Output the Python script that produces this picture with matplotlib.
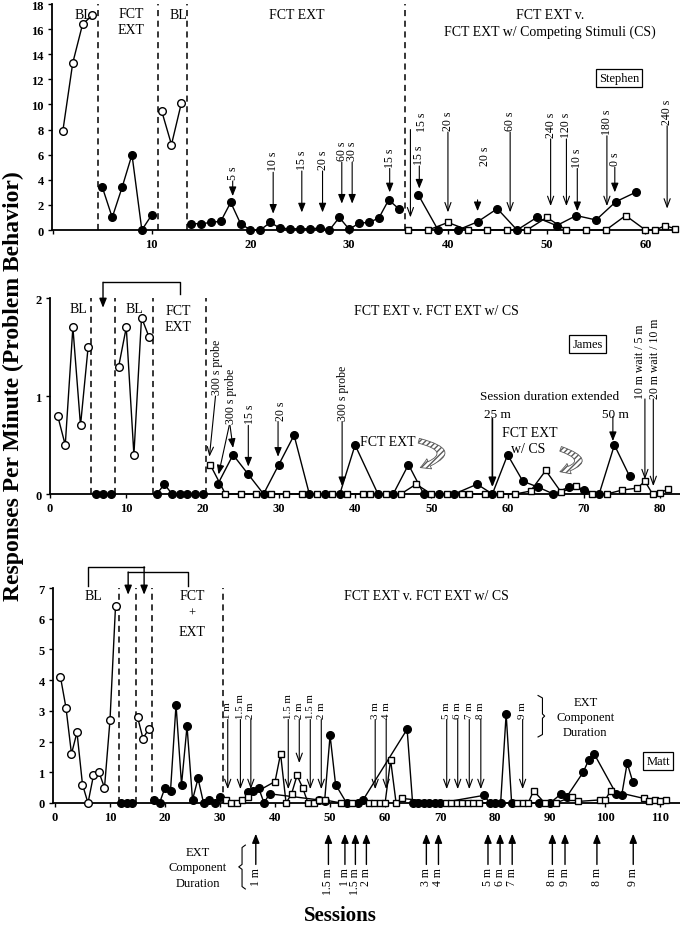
import numpy as np
import matplotlib
matplotlib.use("Agg")
import matplotlib.pyplot as plt
from matplotlib.patches import FancyArrowPatch

plt.rcParams['font.family'] = ['Liberation Serif', 'DejaVu Serif']

# ---------------- Stephen (top panel) ----------------
st_bl1_x = [1, 2, 3, 4]
st_bl1_y = [7.9, 13.3, 16.4, 17.1]
st_fct1_x = [5, 6, 7, 8, 9, 10]
st_fct1_y = [3.4, 1.0, 3.4, 6.0, 0, 1.2]
st_bl2_x = [11, 12, 13]
st_bl2_y = [9.5, 6.8, 10.1]
st_fct2_x = list(range(14, 36))
st_fct2_y = [0.5, 0.5, 0.6, 0.7, 2.2, 0.5, 0, 0, 0.6, 0.15, 0.1, 0.1, 0.1, 0.15,
             0, 1.0, 0.05, 0.55, 0.6, 0.95, 2.4, 1.7]
st_ext_x = [37, 39, 41, 43, 45, 47, 49, 51, 53, 55, 57, 59]
st_ext_y = [2.8, 0, 0, 0.65, 1.7, 0, 1.0, 0.35, 1.15, 0.8, 2.25, 3.0]
st_cs_x = [36, 38, 40, 42, 44, 46, 48, 50, 52, 54, 56, 58, 60, 61, 62, 63]
st_cs_y = [0, 0, 0.6, 0, 0, 0, 0, 1.0, 0, 0, 0, 1.15, 0, 0, 0.35, 0.1]
st_phase = [4.6, 10.6, 13.6, 35.7]
# (session, label, label base, arrow tip, open head)
st_arrows = [(18.2, "5 s", 3.9, 2.7, False), (22.3, "10 s", 4.6, 1.3, False),
             (25.2, "15 s", 4.7, 1.4, False), (27.3, "20 s", 4.7, 1.4, False),
             (29.25, "60 s", 5.4, 2.1, False), (30.3, "30 s", 5.4, 2.1, False),
             (34.1, "15 s", 4.9, 3.0, False), (37.1, "15 s", 5.1, 3.3, False),
             (40.0, "20 s", 7.8, 1.4, True), (46.3, "60 s", 7.8, 1.4, True),
             (50.4, "240 s", 7.25, 1.9, True), (52.0, "120 s", 7.25, 1.9, True),
             (53.1, "10 s", 4.9, 1.5, False), (56.1, "180 s", 7.5, 1.9, True),
             (56.9, "0 s", 5.0, 3.0, False), (62.2, "240 s", 8.3, 1.7, True)]

# ---------------- James (middle panel) ----------------
ja_bl1_x = [1, 2, 3, 4, 5]
ja_bl1_y = [0.8, 0.5, 1.7, 0.7, 1.5]
ja_fct1_x = [6, 7, 8]
ja_fct1_y = [0, 0, 0]
ja_bl2_x = [9, 10, 11, 12, 13]
ja_bl2_y = [1.3, 1.7, 0.4, 1.8, 1.6]
ja_fct2_x = [14, 15, 16, 17, 18, 19, 20]
ja_fct2_y = [0, 0.1, 0, 0, 0, 0, 0]
ja_ext_x = [22, 24, 26, 28, 30, 32, 34, 36, 38, 40, 43, 45, 47, 49, 51, 53, 56, 58,
            60, 62, 64, 66, 68, 70, 72, 74, 76]
ja_ext_y = [0.1, 0.4, 0.2, 0, 0.3, 0.6, 0, 0, 0, 0.5, 0, 0, 0.3, 0, 0, 0, 0.1, 0,
            0.4, 0.13, 0.07, 0, 0.07, 0.04, 0, 0.5, 0.18]
ja_cs_x = [21, 23, 25, 27, 29, 31, 33, 35, 37, 39, 41, 42, 44, 46, 48, 50, 52, 54,
           55, 57, 59, 61, 63, 65, 67, 69, 71, 73, 75, 77, 78, 79, 80, 81]
ja_cs_y = [0.3, 0, 0, 0, 0, 0, 0, 0, 0, 0, 0, 0, 0, 0, 0.1, 0, 0, 0,
           0, 0, 0, 0, 0.03, 0.24, 0.02, 0.08, 0, 0, 0.04, 0.06, 0.13, 0, 0.01, 0.05]
ja_phase = [5.4, 8.5, 13.5, 20.4]

# ---------------- Matt (bottom panel) ----------------
ma_bl1_x = list(range(1, 12))
ma_bl1_y = [4.1, 3.1, 1.6, 2.3, 0.6, 0, 0.9, 1.0, 0.5, 2.7, 6.4]
ma_fct1_x = [12, 13, 14]
ma_fct1_y = [0, 0, 0]
ma_bl2_x = [15, 16, 17]
ma_bl2_y = [2.8, 2.1, 2.4]
ma_fct2_x = list(range(18, 31))
ma_fct2_y = [0.1, 0, 0.5, 0.4, 3.2, 0.6, 2.5, 0.1, 0.8, 0, 0.1, 0, 0.2]
ma_ext_x = [35, 36, 37, 38, 39, 48, 49, 50, 51, 53, 55, 56, 64, 65, 66, 67, 68, 69,
            70, 78, 79, 80, 81, 82, 83, 88, 90, 92, 93, 96, 97, 98, 102, 103, 104, 105]
ma_ext_y = [0.35, 0.4, 0.5, 0, 0.3, 0.1, 0.05, 2.2, 0.6, 0, 0, 0.1, 2.4, 0, 0, 0, 0, 0,
            0, 0.25, 0, 0, 0, 2.9, 0, 0, 0, 0.3, 0.2, 1.0, 1.4, 1.6, 0.3, 0.25, 1.3, 0.7]
ma_cs_x = [31, 32, 33, 34, 35, 40, 41, 42, 43, 44, 45, 46, 47, 48, 49, 52, 54, 57, 58,
           59, 60, 61, 62, 63, 71, 72, 73, 74, 75, 76, 77, 84, 85, 86, 87, 89, 91, 94,
           95, 99, 100, 101, 107, 108, 109, 110, 111]
ma_cs_y = [0.1, 0, 0, 0.1, 0.2, 0.7, 1.6, 0, 0.3, 0.9, 0.5, 0, 0, 0.1, 0.1, 0, 0, 0, 0,
           0, 0, 1.4, 0, 0.15, 0, 0, 0, 0, 0, 0, 0, 0, 0, 0, 0.4, 0, 0, 0.2,
           0.05, 0.1, 0.1, 0.4, 0.15, 0.05, 0.1, 0.05, 0.1]
ma_phase = [11.7, 14.7, 17.6, 30.6]
ma_top_x = [31.4, 33.7, 35.6, 42.4, 44.4, 46.4, 48.4, 58.2, 60.2, 71.2, 73.2, 75.3, 77.4, 85.0]
ma_top_lab = ["1 m", "1.5 m", "2 m", "1.5 m", "2 m", "1.5 m", "2 m", "3 m", "4 m",
              "5 m", "6 m", "7 m", "8 m", "9 m"]
ma_bot_x = [36.5, 49.7, 52.7, 54.6, 56.6, 67.5, 69.7, 78.7, 80.9, 83.1, 90.4, 92.7, 98.5, 105.1]
ma_bot_lab = ["1 m", "1.5 m", "1 m", "1.5 m", "2 m", "3 m", "4 m", "5 m", "6 m", "7 m",
              "8 m", "9 m", "8 m", "9 m"]

W, H = 680, 928
fig = plt.figure(figsize=(W / 100, H / 100), dpi=100)


def box(l, t, r, b):
    return [l / W, 1 - b / H, (r - l) / W, (b - t) / H]


def style(ax):
    for s in ['top', 'right']:
        ax.spines[s].set_visible(False)
    for s in ['left', 'bottom']:
        ax.spines[s].set_linewidth(1.3)
    ax.tick_params(direction='out', length=3, width=1, labelsize=9, pad=3)
    for lab in ax.get_xticklabels() + ax.get_yticklabels():
        lab.set_fontweight('bold')


def series(ax, x, y, kind):
    if kind == 'open':
        kw = dict(marker='o', mfc='white', mec='k', ms=5.5, mew=1)
    elif kind == 'fill':
        kw = dict(marker='o', mfc='k', mec='k', ms=5.5)
    else:
        kw = dict(marker='s', mfc='white', mec='k', ms=5, mew=1)
    ax.plot(x, y, color='k', lw=1, clip_on=False, zorder=3, **kw)


def phases(ax, xs):
    for x in xs:
        ax.axvline(x, color='k', ls=(0, (4, 3)), lw=1.1, zorder=1)


def arrow(ax, x0, y0, x1, y1, open_head=False, lw=0.8):
    st = '->,head_length=0.6,head_width=0.22' if open_head else '-|>,head_length=0.55,head_width=0.22'
    ax.annotate('', xy=(x1, y1), xytext=(x0, y0), annotation_clip=False,
                arrowprops=dict(arrowstyle=st, color='k', lw=lw, shrinkA=0, shrinkB=0))


def vlabel(ax, x, y, s, size=8.5, va='bottom'):
    ax.text(x, y, s, rotation=90, ha='center', va=va, fontsize=size, clip_on=False)


# ---------------- top panel ----------------
ax1 = fig.add_axes(box(52, 5, 678, 231))
ax1.set_xlim(-0.1, 63.3)
ax1.set_ylim(0, 18)
ax1.set_yticks(range(0, 19, 2))
ax1.set_xticks(range(0, 61, 10))
ax1.set_xticklabels([''] + [str(v) for v in range(10, 61, 10)])
style(ax1)
phases(ax1, st_phase)
series(ax1, st_bl1_x, st_bl1_y, 'open')
series(ax1, st_fct1_x, st_fct1_y, 'fill')
series(ax1, st_bl2_x, st_bl2_y, 'open')
series(ax1, st_fct2_x, st_fct2_y, 'fill')
series(ax1, st_ext_x, st_ext_y, 'fill')
series(ax1, st_cs_x, st_cs_y, 'sq')
for x, lab, base, tip, op in st_arrows:
    arrow(ax1, x, base, x, tip, op)
    vlabel(ax1, x, base + 0.15, lab)
arrow(ax1, 36.2, 8.0, 36.2, 1.0, True)
vlabel(ax1, 37.4, 7.9, "15 s")
arrow(ax1, 43.0, 2.4, 43.0, 1.5, False)
vlabel(ax1, 43.8, 5.2, "20 s")
ax1.text(3.1, 17.2, "BL", ha='center', va='center', fontsize=10)
ax1.text(7.9, 16.6, "FCT\nEXT", ha='center', va='center', fontsize=10, linespacing=1.3)
ax1.text(12.7, 17.2, "BL", ha='center', va='center', fontsize=10)
ax1.text(24.7, 17.2, "FCT EXT", ha='center', va='center', fontsize=10)
ax1.text(50.3, 17.2, "FCT EXT v.", ha='center', va='center', fontsize=10)
ax1.text(50.3, 15.8, "FCT EXT w/ Competing Stimuli (CS)", ha='center', va='center', fontsize=10)
ax1.text(57.3, 12.1, "Stephen", ha='center', va='center', fontsize=9,
         bbox=dict(boxstyle='square,pad=0.25', fc='white', ec='k', lw=0.9))

# ---------------- middle panel ----------------
ax2 = fig.add_axes(box(50, 299, 680, 495))
ax2.set_xlim(0, 82.6)
ax2.set_ylim(0, 2)
ax2.set_yticks([0, 1, 2])
ax2.set_xticks(range(0, 81, 10))
style(ax2)
phases(ax2, ja_phase)
series(ax2, ja_bl1_x, ja_bl1_y, 'open')
series(ax2, ja_fct1_x, ja_fct1_y, 'fill')
series(ax2, ja_bl2_x, ja_bl2_y, 'open')
series(ax2, ja_fct2_x, ja_fct2_y, 'fill')
series(ax2, ja_ext_x, ja_ext_y, 'fill')
series(ax2, ja_cs_x, ja_cs_y, 'sq')
ax2.text(3.7, 1.89, "BL", ha='center', va='center', fontsize=10)
ax2.text(11.1, 1.89, "BL", ha='center', va='center', fontsize=10)
ax2.text(16.8, 1.79, "FCT\nEXT", ha='center', va='center', fontsize=10, linespacing=1.3)
ax2.text(50.7, 1.87, "FCT EXT v. FCT EXT w/ CS", ha='center', va='center', fontsize=10)
ax2.text(70.5, 1.53, "James", ha='center', va='center', fontsize=9,
         bbox=dict(boxstyle='square,pad=0.25', fc='white', ec='k', lw=0.9))
# bracket over reversal
ax2.plot([6.95, 17.05, 17.05], [2.16, 2.16, 2.04], color='k', lw=1, clip_on=False)
arrow(ax2, 6.95, 2.16, 6.95, 1.9, False, lw=1)
# probe / delay arrows
vlabel(ax2, 21.9, 1.02, "300 s probe")
arrow(ax2, 21.7, 1.0, 20.9, 0.38, True)
vlabel(ax2, 23.7, 0.72, "300 s probe")
arrow(ax2, 23.5, 0.7, 22.1, 0.2, False)
arrow(ax2, 23.6, 0.7, 24.0, 0.47, False)
vlabel(ax2, 26.2, 0.72, "15 s")
arrow(ax2, 26.0, 0.7, 26.0, 0.28, False)
vlabel(ax2, 30.3, 0.76, "20 s")
arrow(ax2, 29.9, 0.74, 29.9, 0.38, False)
vlabel(ax2, 38.4, 0.76, "300 s probe")
arrow(ax2, 38.3, 0.74, 38.3, 0.08, False)
ax2.text(44.3, 0.54, "FCT EXT", ha='center', va='center', fontsize=10)
ax2.text(62.9, 0.63, "FCT EXT", ha='center', va='center', fontsize=10)
ax2.text(62.7, 0.46, "w/ CS", ha='center', va='center', fontsize=10)
ax2.text(65.5, 1.0, "Session duration extended", ha='center', va='center', fontsize=9.5)
ax2.text(58.7, 0.82, "25 m", ha='center', va='center', fontsize=9.5)
arrow(ax2, 58.0, 0.77, 58.0, 0.07, False, lw=1.2)
ax2.text(74.1, 0.82, "50 m", ha='center', va='center', fontsize=9.5)
arrow(ax2, 73.8, 0.79, 73.8, 0.54, False)
vlabel(ax2, 77.4, 0.98, "10 m wait / 5 m")
arrow(ax2, 78.0, 0.97, 78.0, 0.15, True)
vlabel(ax2, 79.3, 0.98, "20 m wait / 10 m")
arrow(ax2, 79.1, 0.97, 79.1, 0.08, True)
# shaded curved arrows from the condition labels to the data
for a, b in [((48.0, 0.55), (48.2, 0.26)), ((66.6, 0.47), (66.5, 0.22))]:
    pa = FancyArrowPatch(a, b, connectionstyle='arc3,rad=-1.7',
                         arrowstyle='simple,head_length=7,head_width=8,tail_width=3.5',
                         fc='white', ec='0.35', lw=0.6, hatch='//////', zorder=4)
    ax2.add_patch(pa)

# ---------------- bottom panel ----------------
ax3 = fig.add_axes(box(53, 589, 680, 804))
ax3.set_xlim(-0.36, 113.6)
ax3.set_ylim(0, 7)
ax3.set_yticks(range(0, 8))
ax3.set_xticks(range(0, 111, 10))
style(ax3)
phases(ax3, ma_phase)
series(ax3, ma_bl1_x, ma_bl1_y, 'open')
series(ax3, ma_fct1_x, ma_fct1_y, 'fill')
series(ax3, ma_bl2_x, ma_bl2_y, 'open')
series(ax3, ma_fct2_x, ma_fct2_y, 'fill')
series(ax3, ma_ext_x, ma_ext_y, 'fill')
series(ax3, ma_cs_x, ma_cs_y, 'sq')
ax3.text(6.9, 6.74, "BL", ha='center', va='center', fontsize=10)
ax3.text(24.9, 6.74, "FCT", ha='center', va='center', fontsize=10)
ax3.text(24.9, 6.2, "+", ha='center', va='center', fontsize=9)
ax3.text(24.9, 5.6, "EXT", ha='center', va='center', fontsize=10)
ax3.text(67.6, 6.74, "FCT EXT v. FCT EXT w/ CS", ha='center', va='center', fontsize=10)
ax3.text(109.6, 1.37, "Matt", ha='center', va='center', fontsize=9,
         bbox=dict(boxstyle='square,pad=0.25', fc='white', ec='k', lw=0.9))
ax3.plot([6.0, 6.0, 16.2], [7.07, 7.69, 7.69], color='k', lw=1, clip_on=False)
arrow(ax3, 16.2, 7.69, 16.2, 6.78, False, lw=1)
ax3.plot([13.3, 24.2, 24.2], [7.52, 7.52, 7.07], color='k', lw=1, clip_on=False)
arrow(ax3, 13.3, 7.52, 13.3, 6.78, False, lw=1)
for x, lab in zip(ma_top_x, ma_top_lab):
    tip = 1.3 if lab == "2 m" and x == 44.4 else 0.45
    arrow(ax3, x, 2.72, x, tip, True)
    vlabel(ax3, x, 2.76, lab, size=7.8)
ax3.plot([87.8, 88.6, 88.6, 89.0, 88.6, 88.6, 87.8],
         [3.5, 3.42, 2.9, 2.83, 2.76, 2.23, 2.15], color='k', lw=0.8, clip_on=False)
ax3.text(96.4, 2.8, "EXT\nComponent\nDuration", ha='center', va='center',
         fontsize=9, linespacing=1.35)
for x, lab in zip(ma_bot_x, ma_bot_lab):
    arrow(ax3, x, -2.0, x, -1.0, False, lw=1)
    vlabel(ax3, x, -2.1, lab, va='top')
ax3.plot([34.6, 34.0, 34.0, 33.4, 34.0, 34.0, 34.6],
         [-1.37, -1.45, -2.0, -2.08, -2.16, -2.72, -2.8], color='k', lw=0.8, clip_on=False)
ax3.text(26.0, -2.1, "EXT\nComponent\nDuration", ha='center', va='center',
         fontsize=9, linespacing=1.35)

fig.text(0.02, 1 - 386 / H, "Responses Per Minute (Problem Behavior)", rotation=90,
         ha='center', va='center', fontsize=17, fontweight='bold')
fig.text(340 / W, 1 - 916 / H, "Sessions", ha='center', va='center',
         fontsize=15, fontweight='bold')

fig.savefig("out.png", dpi=100)
